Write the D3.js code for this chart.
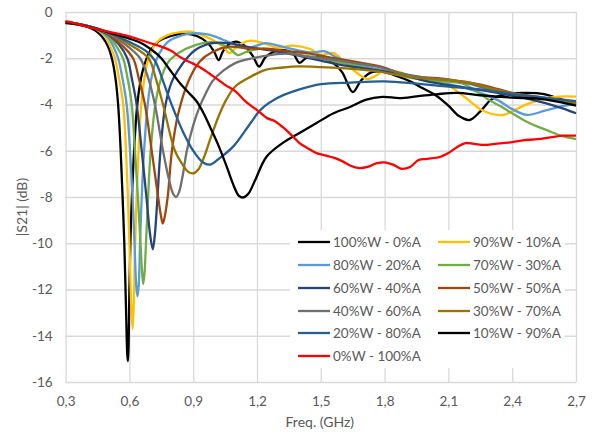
<!DOCTYPE html>
<html>
<head>
<meta charset="utf-8">
<script src="https://cdn.jsdelivr.net/npm/d3@7"></script>
<style>
  body { margin: 0; background: #fff; }
  svg { display: block; }
  text { font-family: Lato, "Open Sans", sans-serif; }
</style>
</head>
<body>
<svg id="chart" width="593" height="435"></svg>
<script>
// |S21| transmission curves, one list of [frequency GHz, dB] pairs per mixture
const w100a0 = [[0.30,-0.48],[0.35,-0.53],[0.40,-0.63],[0.44,-0.8],[0.47,-1.05],[0.50,-1.5],[0.52,-2.1],[0.535,-2.9],[0.547,-4.0],[0.559,-6.0],[0.568,-8.0],[0.576,-10.0],[0.584,-12.8],[0.590,-14.8],[0.593,-15.1],[0.596,-14.5],[0.600,-12.0],[0.605,-9.8],[0.612,-8.0],[0.622,-6.0],[0.635,-4.2],[0.65,-3.1],[0.67,-2.3],[0.70,-1.65],[0.74,-1.25],[0.80,-1.02],[0.86,-0.93],[0.92,-1.05],[0.97,-1.35],[1.00,-1.75],[1.02,-2.08],[1.04,-1.7],[1.07,-1.38],[1.10,-1.28],[1.14,-1.45],[1.18,-1.9],[1.21,-2.36],[1.24,-1.95],[1.28,-1.72],[1.33,-1.65],[1.37,-1.8],[1.40,-2.2],[1.43,-2.0],[1.48,-1.95],[1.55,-2.15],[1.60,-2.6],[1.65,-3.46],[1.69,-2.95],[1.74,-2.6],[1.80,-2.6],[1.86,-2.78],[1.92,-3.0],[1.98,-3.3],[2.04,-3.6],[2.10,-4.05],[2.15,-4.5],[2.20,-4.67],[2.25,-4.3],[2.30,-3.8],[2.36,-3.57],[2.45,-3.5],[2.55,-3.55],[2.62,-3.75],[2.70,-3.95]];
const w90a10 = [[0.30,-0.45],[0.35,-0.5],[0.40,-0.6],[0.45,-0.78],[0.49,-1.1],[0.515,-1.6],[0.532,-2.0],[0.55,-2.8],[0.571,-4.0],[0.584,-6.0],[0.593,-8.0],[0.600,-10.0],[0.608,-12.5],[0.615,-13.7],[0.621,-12.5],[0.627,-10.0],[0.634,-8.0],[0.643,-6.0],[0.656,-4.0],[0.672,-2.8],[0.69,-2.0],[0.73,-1.3],[0.78,-1.0],[0.84,-0.87],[0.89,-0.85],[0.94,-1.0],[0.99,-1.2],[1.04,-1.5],[1.07,-1.78],[1.10,-1.55],[1.13,-1.35],[1.17,-1.24],[1.23,-1.35],[1.30,-1.55],[1.37,-1.45],[1.45,-1.6],[1.50,-1.85],[1.56,-1.78],[1.62,-2.25],[1.68,-2.7],[1.72,-2.9],[1.76,-2.75],[1.80,-2.5],[1.87,-2.6],[1.95,-2.85],[2.05,-3.0],[2.11,-3.23],[2.18,-3.7],[2.25,-4.2],[2.30,-4.4],[2.36,-4.45],[2.42,-4.2],[2.48,-3.95],[2.55,-3.75],[2.62,-3.66],[2.70,-3.66]];
const w80a20 = [[0.30,-0.45],[0.35,-0.5],[0.40,-0.6],[0.45,-0.76],[0.50,-1.1],[0.525,-1.5],[0.547,-2.0],[0.568,-2.9],[0.587,-4.0],[0.603,-6.0],[0.615,-8.0],[0.624,-10.0],[0.632,-11.8],[0.638,-12.3],[0.644,-11.8],[0.650,-10.0],[0.658,-8.0],[0.669,-6.0],[0.686,-4.0],[0.705,-2.8],[0.73,-2.0],[0.78,-1.3],[0.85,-1.0],[0.90,-0.92],[0.96,-0.96],[1.00,-1.05],[1.04,-1.2],[1.10,-1.42],[1.15,-1.57],[1.20,-1.45],[1.24,-1.35],[1.30,-1.45],[1.35,-1.57],[1.45,-1.75],[1.52,-1.7],[1.57,-1.95],[1.65,-2.2],[1.75,-2.45],[1.85,-2.6],[1.95,-2.85],[2.05,-3.05],[2.16,-3.24],[2.25,-3.5],[2.33,-3.8],[2.40,-4.2],[2.47,-4.45],[2.55,-4.28],[2.62,-4.1],[2.70,-3.97]];
const w70a30 = [[0.30,-0.45],[0.35,-0.5],[0.40,-0.6],[0.45,-0.75],[0.50,-1.0],[0.54,-1.5],[0.57,-2.0],[0.592,-2.9],[0.611,-4.0],[0.626,-6.0],[0.640,-8.0],[0.652,-10.0],[0.660,-11.3],[0.665,-11.76],[0.671,-11.3],[0.678,-10.0],[0.688,-8.0],[0.700,-6.0],[0.722,-4.0],[0.745,-3.0],[0.78,-2.2],[0.83,-1.78],[0.91,-1.43],[0.99,-1.3],[1.04,-1.42],[1.07,-1.57],[1.11,-1.86],[1.15,-1.73],[1.23,-1.57],[1.32,-1.7],[1.40,-1.85],[1.50,-2.0],[1.60,-2.2],[1.70,-2.4],[1.80,-2.6],[1.90,-2.8],[2.00,-2.95],[2.10,-3.02],[2.16,-3.08],[2.22,-3.35],[2.29,-3.8],[2.35,-4.1],[2.40,-4.38],[2.48,-4.8],[2.56,-5.1],[2.63,-5.35],[2.70,-5.5]];
const w60a40 = [[0.30,-0.45],[0.35,-0.5],[0.40,-0.6],[0.45,-0.75],[0.50,-0.98],[0.55,-1.4],[0.59,-2.0],[0.612,-2.9],[0.634,-4.0],[0.658,-6.0],[0.680,-8.0],[0.697,-9.6],[0.710,-10.26],[0.720,-9.6],[0.732,-8.0],[0.746,-6.0],[0.770,-4.0],[0.80,-3.0],[0.83,-2.5],[0.87,-2.0],[0.91,-1.64],[0.99,-1.35],[1.07,-1.35],[1.15,-1.5],[1.31,-1.73],[1.40,-1.9],[1.50,-2.1],[1.60,-2.3],[1.75,-2.5],[1.90,-2.75],[2.00,-3.0],[2.10,-3.16],[2.20,-3.3],[2.33,-3.5],[2.45,-3.7],[2.56,-3.95],[2.64,-4.18],[2.70,-4.38]];
const w50a50 = [[0.30,-0.45],[0.35,-0.5],[0.40,-0.6],[0.45,-0.74],[0.50,-0.95],[0.56,-1.4],[0.617,-2.0],[0.645,-2.9],[0.673,-4.0],[0.705,-6.0],[0.735,-8.0],[0.750,-8.9],[0.757,-9.15],[0.765,-8.9],[0.780,-8.0],[0.80,-6.0],[0.83,-4.38],[0.88,-2.94],[0.93,-2.15],[0.99,-1.73],[1.07,-1.5],[1.15,-1.57],[1.25,-1.6],[1.35,-1.7],[1.45,-1.8],[1.56,-2.0],[1.66,-2.15],[1.79,-2.38],[1.87,-2.65],[1.95,-2.8],[2.05,-2.86],[2.16,-3.0],[2.28,-3.2],[2.40,-3.5],[2.56,-3.72],[2.70,-3.95]];
const w40a60 = [[0.30,-0.45],[0.35,-0.5],[0.40,-0.6],[0.45,-0.73],[0.50,-0.93],[0.58,-1.4],[0.65,-2.0],[0.69,-2.9],[0.72,-4.0],[0.758,-6.0],[0.785,-7.2],[0.805,-7.85],[0.819,-8.0],[0.833,-7.8],[0.85,-7.1],[0.87,-6.0],[0.90,-4.9],[0.93,-4.1],[0.96,-3.5],[0.99,-3.0],[1.04,-2.55],[1.10,-2.2],[1.18,-2.0],[1.27,-1.85],[1.35,-1.8],[1.45,-1.95],[1.55,-2.05],[1.65,-2.2],[1.78,-2.4],[1.90,-2.7],[2.00,-2.85],[2.15,-3.0],[2.30,-3.35],[2.45,-3.6],[2.58,-3.78],[2.70,-3.98]];
const w30a70 = [[0.30,-0.45],[0.35,-0.5],[0.40,-0.6],[0.45,-0.72],[0.50,-0.9],[0.60,-1.4],[0.69,-2.0],[0.725,-2.9],[0.758,-4.0],[0.814,-6.0],[0.85,-6.6],[0.875,-6.9],[0.90,-6.98],[0.925,-6.8],[0.95,-6.3],[0.98,-5.5],[1.02,-4.5],[1.055,-3.8],[1.10,-3.2],[1.17,-2.8],[1.24,-2.5],[1.32,-2.4],[1.40,-2.35],[1.50,-2.38],[1.60,-2.43],[1.75,-2.55],[1.85,-2.7],[1.97,-2.86],[2.10,-2.95],[2.20,-3.05],[2.30,-3.3],[2.42,-3.55],[2.56,-3.75],[2.70,-3.95]];
const w20a80 = [[0.30,-0.45],[0.35,-0.5],[0.40,-0.6],[0.45,-0.72],[0.50,-0.88],[0.60,-1.3],[0.68,-1.7],[0.72,-2.1],[0.755,-2.9],[0.79,-3.8],[0.853,-5.2],[0.90,-6.0],[0.945,-6.5],[0.979,-6.6],[1.02,-6.35],[1.09,-5.8],[1.17,-4.8],[1.22,-4.2],[1.30,-3.7],[1.40,-3.35],[1.50,-3.12],[1.64,-3.05],[1.80,-3.0],[1.95,-3.1],[2.10,-3.23],[2.25,-3.35],[2.33,-3.46],[2.50,-3.65],[2.70,-3.85]];
const w10a90 = [[0.30,-0.45],[0.40,-0.62],[0.50,-0.88],[0.60,-1.15],[0.65,-1.32],[0.70,-1.6],[0.75,-2.0],[0.79,-2.5],[0.84,-3.1],[0.88,-3.5],[0.915,-3.85],[0.95,-4.4],[0.979,-4.97],[1.02,-5.8],[1.058,-6.7],[1.09,-7.5],[1.115,-7.95],[1.136,-8.02],[1.16,-7.85],[1.19,-7.3],[1.244,-6.27],[1.32,-5.67],[1.40,-5.23],[1.48,-4.8],[1.56,-4.38],[1.64,-4.1],[1.71,-3.8],[1.79,-3.67],[1.87,-3.72],[1.95,-3.65],[2.05,-3.55],[2.14,-3.5],[2.25,-3.6],[2.40,-3.7],[2.52,-3.75],[2.60,-3.85],[2.70,-4.05]];
const w0a100 = [[0.30,-0.4],[0.35,-0.5],[0.41,-0.65],[0.50,-0.85],[0.55,-0.95],[0.60,-1.05],[0.65,-1.2],[0.70,-1.35],[0.75,-1.5],[0.80,-1.7],[0.835,-1.93],[0.88,-2.15],[0.93,-2.38],[0.99,-2.75],[1.05,-3.15],[1.10,-3.44],[1.15,-3.9],[1.20,-4.24],[1.25,-4.6],[1.28,-4.7],[1.32,-4.97],[1.36,-5.3],[1.40,-5.67],[1.44,-5.9],[1.48,-6.1],[1.52,-6.2],[1.56,-6.3],[1.60,-6.45],[1.64,-6.65],[1.68,-6.75],[1.72,-6.7],[1.76,-6.55],[1.80,-6.5],[1.84,-6.6],[1.88,-6.78],[1.92,-6.7],[1.96,-6.4],[2.00,-6.35],[2.06,-6.27],[2.10,-6.1],[2.14,-5.85],[2.18,-5.67],[2.22,-5.7],[2.27,-5.75],[2.32,-5.7],[2.38,-5.65],[2.45,-5.55],[2.52,-5.5],[2.58,-5.42],[2.64,-5.35],[2.70,-5.35]];

const seriesNames = ["100%W - 0%A","90%W - 10%A","80%W - 20%A","70%W - 30%A","60%W - 40%A","50%W - 50%A","40%W - 60%A","30%W - 70%A","20%W - 80%A","10%W - 90%A","0%W - 100%A"];
const seriesData = [w100a0, w90a10, w80a20, w70a30, w60a40, w50a50, w40a60, w30a70, w20a80, w10a90, w0a100];
const seriesColors = ["#000000","#FFC000","#5B9BD5","#70AD47","#264478","#9E480E","#6F6F6F","#997300","#255E91","#000000","#FF0000"];

const xTicks = [0.3,0.6,0.9,1.2,1.5,1.8,2.1,2.4,2.7];
const xTickLabels = ["0,3","0,6","0,9","1,2","1,5","1,8","2,1","2,4","2,7"];
const yTicks = [0,-2,-4,-6,-8,-10,-12,-14,-16];

const svg = d3.select("#chart");
const plot = {left: 65.6, right: 576, top: 12, bottom: 382};

const x = d3.scaleLinear().domain([0.3, 2.7]).range([plot.left, plot.right]);
const y = d3.scaleLinear().domain([-16, 0]).range([plot.bottom, plot.top]);

const gridColor = "#D9D9D9";
const textColor = "#595959";

// gridlines and tick labels
const yAxis = d3.axisLeft(y).tickValues(yTicks).tickSize(-(plot.right - plot.left))
  .tickFormat(d => String(d)).tickPadding(13);
const gy = svg.append("g").attr("transform", `translate(${plot.left},0)`).call(yAxis);
gy.select(".domain").remove();
gy.selectAll(".tick line").attr("stroke", gridColor).attr("stroke-width", 1.3);
gy.selectAll(".tick text").attr("fill", textColor).style("font-size", "13.5px");

const xAxis = d3.axisBottom(x).tickValues(xTicks).tickSize(-(plot.bottom - plot.top))
  .tickFormat((d, i) => xTickLabels[i]).tickPadding(14);
const gx = svg.append("g").attr("transform", `translate(0,${plot.bottom})`).call(xAxis);
gx.select(".domain").remove();
gx.selectAll(".tick line").attr("stroke", gridColor).attr("stroke-width", 1.3);
gx.selectAll(".tick text").attr("fill", textColor).style("font-size", "13.5px");

// curves
const line = d3.line()
  .x(d => x(d[0]))
  .y(d => y(d[1]))
  .curve(d3.curveCatmullRom.alpha(0.5));

svg.append("g").selectAll("path")
  .data(seriesData)
  .join("path")
  .attr("d", line)
  .attr("fill", "none")
  .attr("stroke", (d, i) => seriesColors[i])
  .attr("stroke-width", 2.3)
  .attr("stroke-linejoin", "round");

// legend
const legend = svg.append("g");
legend.append("rect")
  .attr("x", 290).attr("y", 230).attr("width", 275).attr("height", 138)
  .attr("fill", "#fff");
const rowY = [242, 265, 288, 311, 333, 356];
const colX = [298, 438];
seriesNames.forEach((name, i) => {
  const cx = colX[i % 2], cy = rowY[Math.floor(i / 2)];
  legend.append("line")
    .attr("x1", cx).attr("x2", cx + 32).attr("y1", cy).attr("y2", cy)
    .attr("stroke", seriesColors[i]).attr("stroke-width", 2.3);
  legend.append("text")
    .attr("x", cx + 35).attr("y", cy).attr("dy", "0.35em")
    .attr("fill", textColor).style("font-size", "13.5px")
    .text(name);
});

// axis titles
svg.append("text")
  .attr("x", (plot.left + plot.right) / 2 - 1).attr("y", 427)
  .attr("text-anchor", "middle").attr("fill", textColor).style("font-size", "14px")
  .text("Freq. (GHz)");
svg.append("text")
  .attr("transform", `translate(27,${(plot.top + plot.bottom) / 2 + 10}) rotate(-90)`)
  .attr("text-anchor", "middle").attr("fill", textColor).style("font-size", "14px")
  .text("|S21| (dB)");
</script>
</body>
</html>
